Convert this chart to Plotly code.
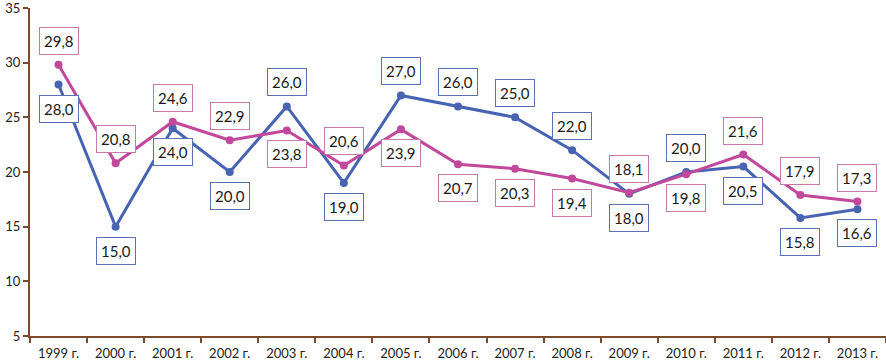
import plotly.graph_objects as go

years = ["1999 г.", "2000 г.", "2001 г.", "2002 г.", "2003 г.", "2004 г.", "2005 г.",
         "2006 г.", "2007 г.", "2008 г.", "2009 г.", "2010 г.", "2011 г.", "2012 г.", "2013 г."]
blue_vals = [28.0, 15.0, 24.0, 20.0, 26.0, 19.0, 27.0, 26.0, 25.0, 22.0, 18.0, 20.0, 20.5, 15.8, 16.6]
magenta_vals = [29.8, 20.8, 24.6, 22.9, 23.8, 20.6, 23.9, 20.7, 20.3, 19.4, 18.1, 19.8, 21.6, 17.9, 17.3]
# label placement: 1 = above, -1 = below
blue_side = [-1, -1, -1, -1, 1, -1, 1, 1, 1, 1, -1, 1, -1, -1, -1]
magenta_side = [1, 1, 1, 1, -1, 1, -1, -1, -1, -1, 1, -1, 1, 1, 1]

BLUE = "#4763B2"
MAGENTA = "#C2489C"
AXIS = "#7A4A2A"
FONT = "Lato"

fig = go.Figure()
fig.add_trace(go.Scatter(x=years, y=blue_vals, mode="lines+markers",
                         line=dict(color=BLUE, width=3), marker=dict(color=BLUE, size=8),
                         showlegend=False, cliponaxis=False))
fig.add_trace(go.Scatter(x=years, y=magenta_vals, mode="lines+markers",
                         line=dict(color=MAGENTA, width=3), marker=dict(color=MAGENTA, size=8),
                         showlegend=False, cliponaxis=False))

def fmt(v):
    return f"{v:.1f}".replace(".", ",")

anns = []
for vals, sides, border in [(magenta_vals, magenta_side, "#C47AAE"), (blue_vals, blue_side, "#5A72B4")]:
    for x, v, s in zip(years, vals, sides):
        anns.append(dict(x=x, y=v, text=fmt(v), showarrow=False, yshift=24 * s,
                         font=dict(family=FONT, size=15, color="#1a1a1a"),
                         bordercolor=border, borderwidth=1, borderpad=4, bgcolor="white"))

fig.update_layout(
    width=886, height=363,
    margin=dict(l=30, r=0, t=5, b=27),
    paper_bgcolor="white", plot_bgcolor="white",
    annotations=anns,
    xaxis=dict(type="category", tickson="boundaries", showline=True, linecolor=AXIS, linewidth=2,
               ticks="outside", ticklen=5, tickcolor=AXIS, tickwidth=2, showgrid=False,
               ticklabeloverflow="allow", ticklabelstandoff=4,
               tickfont=dict(family=FONT, size=13, color="#222"), range=[-0.5, 14.5]),
    yaxis=dict(range=[5, 35], dtick=5, showline=True, linecolor=AXIS, linewidth=2,
               ticks="outside", ticklen=5, tickcolor=AXIS, tickwidth=2, showgrid=False,
               ticklabeloverflow="allow",
               zeroline=False, tickfont=dict(family=FONT, size=13, color="#222")),
)

fig.write_html("out.html", config={"displayModeBar": False},
               post_script="document.body.style.margin='0';document.body.style.overflow='hidden';")
